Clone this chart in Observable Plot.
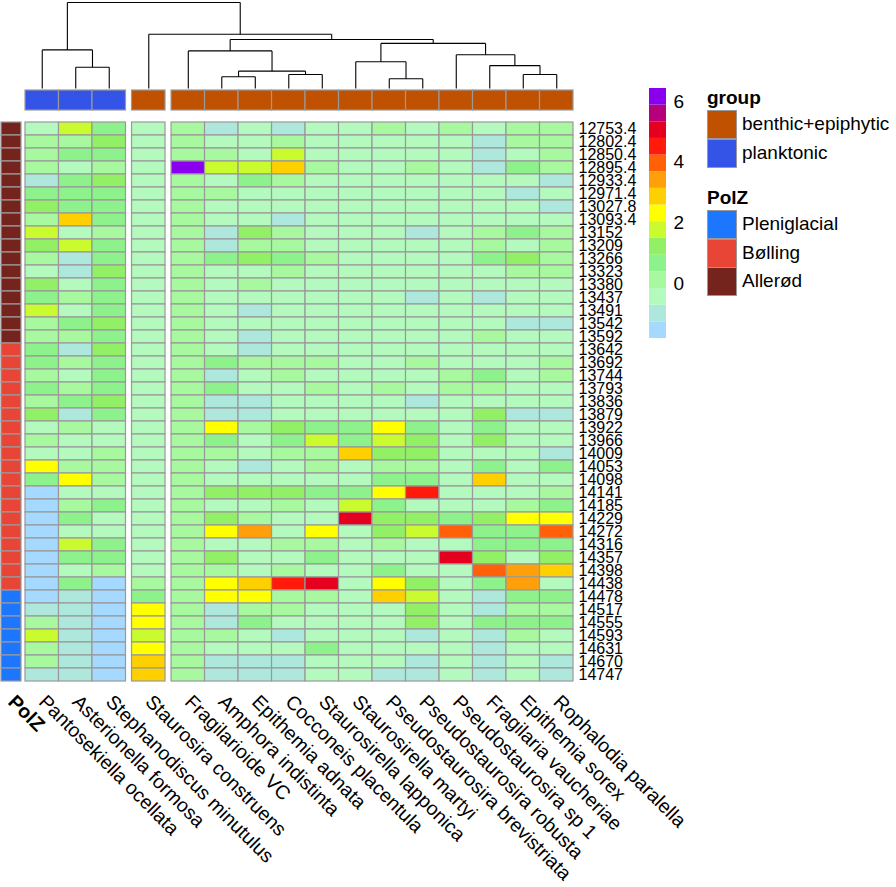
<!DOCTYPE html>
<html><head><meta charset="utf-8">
<script src="https://cdn.jsdelivr.net/npm/d3@7"></script>
<script src="https://cdn.jsdelivr.net/npm/@observablehq/plot@0.6"></script>
<style>
body{margin:0;background:#fff;}
#chart{position:relative;width:896px;height:887px;font-family:"Liberation Sans",Arial,sans-serif;color:#000;overflow:hidden;}
.abs{position:absolute;}
.abs svg{overflow:visible;}
.lgtitle{position:absolute;font-weight:bold;font-size:19px;line-height:20px;}
.lgbox{position:absolute;width:28px;height:27px;border:1px solid #999;}
.lglab{position:absolute;font-size:19px;line-height:28px;white-space:nowrap;}
</style></head><body><div id="chart"></div>
<script>
// ---------- data ----------
const columns = ["Pantosekiella ocellata","Asterionella formosa","Stephanodiscus minutulus","Staurosira construens","Fragilarioide VC","Amphora indistinta","Epithemia adnata","Cocconeis placentula","Staurosirella lapponica","Staurosirella martyi","Pseudostaurosira brevistriata","Pseudostaurosira robusta","Pseudostaurosira sp 1","Fragilaria vaucheriae","Epithemia sorex","Rophalodia paralella"];
const columnGroup = ["planktonic","planktonic","planktonic","benthic+epiphytic","benthic+epiphytic","benthic+epiphytic","benthic+epiphytic","benthic+epiphytic","benthic+epiphytic","benthic+epiphytic","benthic+epiphytic","benthic+epiphytic","benthic+epiphytic","benthic+epiphytic","benthic+epiphytic","benthic+epiphytic"];
const gapsAfterColumn = [3, 4];
const rowLabels = ["12753.4","12802.4","12850.4","12895.4","12933.4","12971.4","13027.8","13093.4","13152","13209","13266","13323","13380","13437","13491","13542","13592","13642","13692","13744","13793","13836","13879","13922","13966","14009","14053","14098","14141","14185","14229","14272","14316","14357","14398","14438","14478","14517","14555","14593","14631","14670","14747"];
const polZ = ["Allerød","Allerød","Allerød","Allerød","Allerød","Allerød","Allerød","Allerød","Allerød","Allerød","Allerød","Allerød","Allerød","Allerød","Allerød","Allerød","Allerød",
"Bølling","Bølling","Bølling","Bølling","Bølling","Bølling","Bølling","Bølling","Bølling","Bølling","Bølling","Bølling","Bølling","Bølling","Bølling","Bølling","Bølling","Bølling","Bølling",
"Pleniglacial","Pleniglacial","Pleniglacial","Pleniglacial","Pleniglacial","Pleniglacial","Pleniglacial"];
const heatValues = [
[-0.45,1.75,0.65,-0.45,0.1,-1,-0.45,-1,-0.45,-0.45,0.1,-0.45,0.1,-0.45,0.1,0.1],
[0.1,0.1,1.2,-0.45,0.1,-0.45,-0.45,0.1,-0.45,-0.45,-0.45,-0.45,-0.45,-1,0.1,0.1],
[0.1,0.65,0.65,-0.45,0.1,0.1,-0.45,1.75,-0.45,-0.45,-0.45,-0.45,-0.45,-1,-0.45,0.1],
[0.1,-0.45,0.1,-0.45,6.2,1.75,1.75,2.85,0.1,-0.45,-0.45,0.1,-0.45,-1,0.65,0.1],
[-1,0.65,1.2,-0.45,0.1,-0.45,0.65,0.1,-0.45,-0.45,-0.45,-0.45,-0.45,-0.45,-0.45,-1],
[0.65,0.65,0.65,-0.45,0.1,0.1,-0.45,-0.45,-0.45,-0.45,-0.45,-0.45,-0.45,-0.45,-1,-0.45],
[1.2,0.65,0.65,-0.45,0.1,-0.45,-0.45,-0.45,-0.45,-0.45,-0.45,-0.45,-0.45,-0.45,-0.45,-1],
[0.1,2.85,0.65,-0.45,0.1,-0.45,-0.45,-1,-0.45,-0.45,-0.45,-0.45,-0.45,-0.45,-0.45,-0.45],
[1.75,-0.45,0.1,-0.45,0.1,-1,1.2,0.1,-0.45,-0.45,-0.45,-1,-0.45,0.1,0.65,0.1],
[1.2,1.75,0.65,-0.45,0.1,-1,0.1,0.1,-0.45,-0.45,-0.45,-0.45,-0.45,0.1,-0.45,0.1],
[0.1,-1,0.65,-0.45,0.1,0.65,1.2,0.65,0.1,-0.45,-0.45,-0.45,-0.45,0.65,1.2,0.1],
[-0.45,-1,1.2,-0.45,0.1,-0.45,-0.45,0.1,-0.45,-0.45,-0.45,-0.45,-0.45,-0.45,0.1,0.1],
[1.2,-0.45,0.65,-0.45,0.1,-0.45,0.1,-0.45,-0.45,-0.45,-0.45,-0.45,-0.45,-0.45,-0.45,-0.45],
[0.65,0.1,0.65,-0.45,0.1,-0.45,-0.45,-0.45,-0.45,-0.45,-0.45,-1,-0.45,-1,-0.45,-0.45],
[1.75,-0.45,0.65,-0.45,0.1,-0.45,-1,-0.45,-0.45,-0.45,-0.45,-0.45,-0.45,-0.45,-0.45,-0.45],
[0.1,0.65,1.2,-0.45,0.1,-0.45,-0.45,-0.45,-0.45,-0.45,-0.45,-0.45,-0.45,-0.45,-1,-1],
[0.1,0.1,0.65,-0.45,0.1,-0.45,-1,-0.45,-0.45,-0.45,-0.45,-0.45,-0.45,0.1,-0.45,-0.45],
[0.65,-1,1.2,-0.45,0.1,-0.45,-1,-0.45,-0.45,-0.45,-0.45,-0.45,-0.45,-0.45,-0.45,-0.45],
[0.65,0.1,0.65,-0.45,0.1,0.65,0.1,0.1,0.1,-0.45,-0.45,0.1,-0.45,-0.45,-0.45,0.1],
[0.1,-0.45,0.65,-0.45,0.1,-1,-0.45,0.1,-0.45,-0.45,-0.45,-0.45,0.1,0.65,-0.45,0.1],
[0.65,0.1,0.65,-0.45,0.1,0.65,-0.45,-0.45,0.1,-0.45,0.1,-0.45,0.1,0.1,-0.45,-0.45],
[0.1,0.65,1.2,-0.45,0.1,-1,-1,-0.45,-0.45,-0.45,-0.45,-1,-0.45,-0.45,-0.45,-0.45],
[1.2,-1,0.65,-0.45,0.1,-1,-1,-0.45,-0.45,-0.45,-0.45,-0.45,-0.45,1.2,-1,-1],
[-0.45,0.1,-0.45,-0.45,0.1,2.3,0.1,1.2,0.65,0.65,2.3,0.65,-0.45,0.65,-0.45,-0.45],
[0.1,-0.45,-0.45,-0.45,0.1,0.65,-0.45,0.65,1.75,0.65,1.75,1.2,-0.45,1.2,-0.45,-0.45],
[-0.45,-0.45,0.1,-0.45,0.1,0.1,-0.45,0.1,0.1,2.85,1.2,1.2,-0.45,-0.45,-0.45,-1],
[2.3,0.1,0.1,-0.45,0.1,-0.45,-1,-0.45,0.1,-0.45,0.1,0.1,-0.45,0.65,-0.45,0.65],
[0.65,2.3,0.1,-0.45,0.1,-0.45,-0.45,-0.45,-0.45,-0.45,0.65,0.65,-0.45,2.85,-0.45,-0.45],
[-1.5,-0.45,-0.45,-0.45,0.1,1.2,1.2,1.2,0.65,0.65,2.3,4.5,-0.45,-0.45,-0.45,0.1],
[-1.5,0.1,0.65,-0.45,0.1,-0.45,-0.45,0.1,-0.45,1.75,0.65,-0.45,-0.45,-0.45,0.1,0.65],
[-1.5,0.65,-0.45,-0.45,0.1,1.2,0.1,-0.45,-0.45,5.05,1.2,1.2,0.65,1.2,2.3,2.3],
[-1.5,-0.45,-0.45,-0.45,0.1,2.3,3.4,-0.45,2.3,-0.45,1.2,1.75,3.95,0.65,0.65,3.95],
[-1.5,1.75,0.65,-0.45,0.1,-0.45,-0.45,0.1,0.1,-0.45,0.1,-0.45,-0.45,0.65,0.65,0.65],
[-1.5,0.65,0.65,-0.45,0.1,1.2,-0.45,-0.45,0.65,-0.45,-0.45,-0.45,5.05,1.2,-0.45,1.2],
[-1.5,-0.45,0.1,-0.45,0.1,0.1,-0.45,0.1,-0.45,-0.45,0.65,-0.45,-0.45,3.95,3.4,2.85],
[-1.5,0.65,-1.5,0.1,0.1,2.3,2.85,4.5,5.05,-0.45,2.3,1.2,-0.45,0.65,3.4,-0.45],
[-1.5,-1,-1.5,0.65,0.1,2.3,2.3,0.1,0.1,-0.45,2.85,1.75,-0.45,-1,0.65,0.65],
[-1,-1,-1.5,2.3,0.1,-1,0.1,0.1,-0.45,-0.45,-0.45,1.2,-0.45,-1,0.1,0.1],
[0.1,-1,-1.5,2.3,0.1,-1,0.65,-0.45,-0.45,-0.45,-0.45,1.2,-0.45,0.65,0.65,0.65],
[1.75,-1,-1.5,1.75,0.1,0.1,-0.45,-1,-0.45,-0.45,-0.45,-1,-0.45,-1,0.1,-0.45],
[0.1,-1,-1.5,2.3,0.1,-0.45,-0.45,-0.45,0.65,-0.45,-0.45,-0.45,-0.45,-1,-0.45,-0.45],
[0.1,-1,-1.5,2.85,0.1,-1,-1,-1,-0.45,-0.45,-0.45,-1,-0.45,-1,-0.45,-1],
[-1,-1,-1.5,2.85,0.1,-1,-1,-1,-0.45,-0.45,-1,-1,-0.45,-1,-0.45,-1]
];
const colorBreaks = [-1.82,-1.27,-0.72,-0.17,0.38,0.93,1.49,2.04,2.59,3.14,3.69,4.24,4.79,5.34,5.89,6.44];
const colorPalette = ["#a6d9ff","#aee8dd","#b4fabe","#a8f8a0","#8ef28c","#91f065","#c9fb2f","#ffff00","#ffd000","#ffa00a","#ff6008","#ff1a0c","#e6001f","#b5007c","#8a00ee"];
const colorTicks = [0, 2, 4, 6];
const groupNames = ["benthic+epiphytic","planktonic"];
const groupColors = ["#c05100","#3354e6"];
const polzNames = ["Pleniglacial","Bølling","Allerød"];
const polzColors = ["#1c76fe","#e84537","#75231d"];
// hclust-style merges: [left, right, height]; negative = leaf (1-based column), positive = earlier merge
const dendroMerges = [
[-11,-12,30],[-6,-7,36],[-8,-9,43],[-15,-16,43],[2,3,53],[-2,-3,65],[-14,4,70],[-10,1,82],
[-13,7,103],[-5,5,115],[-1,6,118],[8,9,138],[10,12,150],[-4,13,166],[11,14,263]
];

// ---------- layout helpers ----------
const GAP = 0.18;  // gap between column clusters, in column units
const colStart = i => i + GAP * gapsAfterColumn.filter(g => i >= g).length;
const xScale = {domain: [0, columns.length + GAP * gapsAfterColumn.length], range: [25, 573]};
const FONT = "Liberation Sans, Arial, Helvetica, sans-serif";
const heatColor = {type: "threshold", domain: colorBreaks.slice(1, -1), range: colorPalette};

const colData = columns.map((name, i) => ({name, i, group: columnGroup[i]}));
const cells = [];
heatValues.forEach((row, r) => row.forEach((v, c) => cells.push({row: rowLabels[r], c, value: v})));
const rowData = rowLabels.map((label, r) => ({label, polz: polZ[r]}));

const chart = document.getElementById("chart");
function place(node, left, top) {
  const d = document.createElement("div");
  d.className = "abs"; d.style.left = left + "px"; d.style.top = top + "px";
  d.appendChild(node); chart.appendChild(d);
}

// ---------- dendrogram ----------
const nodeX = [], nodeH = [];
const childX = c => c < 0 ? colStart(-c - 1) + 0.5 : nodeX[c - 1];
const childH = c => c < 0 ? 0 : nodeH[c - 1];
const segs = [];
dendroMerges.forEach(([a, b, h], k) => {
  const xa = childX(a), xb = childX(b);
  nodeX[k] = (xa + xb) / 2; nodeH[k] = h;
  segs.push({x1: xa, x2: xb, y1: h, y2: h});
  segs.push({x1: xa, x2: xa, y1: childH(a), y2: h});
  segs.push({x1: xb, x2: xb, y1: childH(b), y2: h});
});
place(Plot.plot({
  width: 896, height: 90, margin: 0,
  x: {...xScale, axis: null},
  y: {domain: [0, d3.max(dendroMerges, d => d[2])], range: [88, 2], axis: null},
  style: {overflow: "visible", background: "transparent"},
  marks: [Plot.link(segs, {x1: "x1", x2: "x2", y1: "y1", y2: "y2", stroke: "#000", strokeWidth: 1.1})]
}), 0, 0);

// ---------- group annotation ----------
place(Plot.plot({
  width: 896, height: 20, margin: 0,
  x: {...xScale, axis: null},
  color: {domain: groupNames, range: groupColors},
  style: {overflow: "visible", background: "transparent"},
  marks: [Plot.rect(colData, {x1: d => colStart(d.i), x2: d => colStart(d.i) + 1, fill: "group", stroke: "#999", strokeWidth: 1.2})]
}), 0, 90);

// ---------- heatmap ----------
place(Plot.plot({
  width: 896, height: 772, marginLeft: 25, marginRight: 323, marginTop: 0, marginBottom: 199,
  x: {...xScale, axis: null},
  y: {type: "band", domain: rowLabels, range: [0, 573], padding: 0, axis: null},
  color: heatColor,
  style: {overflow: "visible", background: "transparent", fontFamily: FONT},
  marks: [
    Plot.barX(cells, {x1: d => colStart(d.c), x2: d => colStart(d.c) + 1, y: "row", fill: "value", stroke: "#999", strokeWidth: 1.2}),
    Plot.axisY({anchor: "right", label: null, tickSize: 0, tickPadding: 5, fontSize: 16, fill: "#000"}),
    Plot.text(colData, {x: d => colStart(d.i) + 0.5, frameAnchor: "bottom", text: "name", rotate: 45, textAnchor: "start", lineAnchor: "middle", dy: 10, fontSize: 19.5, fill: "#000"})
  ]
}), 0, 115);

// ---------- PolZ annotation ----------
place(Plot.plot({
  width: 30, height: 772, marginLeft: 1, marginRight: 9, marginTop: 0, marginBottom: 199,
  x: {type: "band", domain: ["PolZ"], range: [1, 21], padding: 0, axis: null},
  y: {type: "band", domain: rowLabels, range: [0, 573], padding: 0, axis: null},
  color: {domain: polzNames, range: polzColors},
  style: {overflow: "visible", background: "transparent", fontFamily: FONT},
  marks: [
    Plot.cell(rowData, {x: () => "PolZ", y: "label", fill: "polz", stroke: "#999", strokeWidth: 1.2}),
    Plot.text(["PolZ"], {x: d => d, frameAnchor: "bottom", text: d => d, rotate: 45, textAnchor: "start", lineAnchor: "middle", dy: 10, fontSize: 19.5, fontWeight: "bold", fill: "#000"})
  ]
}), 0, 115);

// ---------- colour bar legend ----------
const bins = colorPalette.map((c, k) => ({lo: colorBreaks[k], hi: colorBreaks[k + 1]}));
place(Plot.plot({
  width: 60, height: 250, marginLeft: 0, marginRight: 43, marginTop: 0, marginBottom: 0,
  y: {domain: [colorBreaks[0], colorBreaks[colorBreaks.length - 1]], range: [250, 0], axis: null},
  color: heatColor,
  style: {overflow: "visible", background: "transparent", fontFamily: FONT},
  marks: [
    Plot.rect(bins, {y1: "lo", y2: "hi", fill: d => (d.lo + d.hi) / 2}),
    Plot.axisY(colorTicks, {anchor: "right", label: null, tickSize: 0, tickPadding: 7, fontSize: 19, fill: "#000"})
  ]
}), 649, 88);

// ---------- categorical legends ----------
function catLegend(title, names, colors, top) {
  const t = document.createElement("div"); t.className = "lgtitle"; t.textContent = title;
  t.style.left = "707px"; t.style.top = (top - 10) + "px"; chart.appendChild(t);
  names.forEach((n, k) => {
    const y = top + 12 + k * 28.5;
    const b = document.createElement("div"); b.className = "lgbox"; b.style.background = colors[k];
    b.style.left = "707px"; b.style.top = y + "px"; chart.appendChild(b);
    const l = document.createElement("div"); l.className = "lglab"; l.textContent = n;
    l.style.left = "742px"; l.style.top = y + "px"; chart.appendChild(l);
  });
}
catLegend("group", groupNames, groupColors, 98);
catLegend("PolZ", polzNames, polzColors, 198);
</script></body></html>
